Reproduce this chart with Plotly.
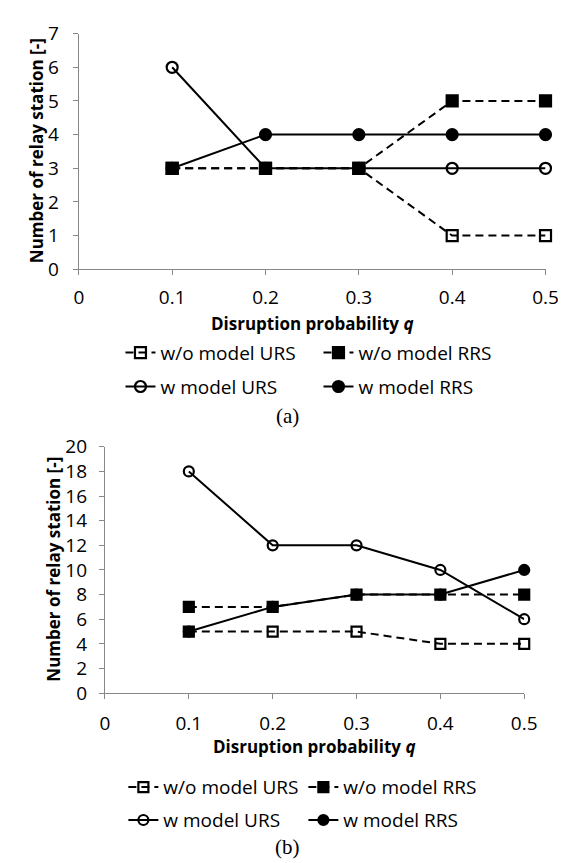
import plotly.graph_objects as go

# ---- data ----
q = [0.1, 0.2, 0.3, 0.4, 0.5]
series_names = ["w/o model URS", "w/o model RRS", "w model URS", "w model RRS"]

a_wo_urs = [3, 3, 3, 1, 1]
a_wo_rrs = [3, 3, 3, 5, 5]
a_w_urs = [6, 3, 3, 3, 3]
a_w_rrs = [3, 4, 4, 4, 4]

b_wo_urs = [5, 5, 5, 4, 4]
b_wo_rrs = [7, 7, 8, 8, 8]
b_w_urs = [18, 12, 12, 10, 6]
b_w_rrs = [5, 7, 8, 8, 10]

x_tickvals = [0, 0.1, 0.2, 0.3, 0.4, 0.5]
x_ticktext = ["0", "0.1", "0.2", "0.3", "0.4", "0.5"]
a_yticks = [0, 1, 2, 3, 4, 5, 6, 7]
b_yticks = [0, 2, 4, 6, 8, 10, 12, 14, 16, 18, 20]

x_title = "Disruption probability <i>q</i>"
y_title = "Number of relay station [-]"
captions = ["(a)", "(b)"]

# ---- layout helpers ----
W, H = 566, 863
FONT = "Open Sans"
AX = "#878787"
DASH = "8px,5px"


def px(xp):
    return xp / W


def py(yp):
    return 1 - yp / H


styles = [
    dict(dash=DASH, symbol="square-open"),
    dict(dash=DASH, symbol="square"),
    dict(dash="solid", symbol="circle-open"),
    dict(dash="solid", symbol="circle"),
]

fig = go.Figure()

panels = [
    dict(data=[a_wo_urs, a_wo_rrs, a_w_urs, a_w_rrs], xa="x", ya="y",
         legends=["legend", "legend2"], msize=11),
    dict(data=[b_wo_urs, b_wo_rrs, b_w_urs, b_w_rrs], xa="x2", ya="y2",
         legends=["legend3", "legend4"], msize=10),
]

for p in panels:
    for i, (vals, st) in enumerate(zip(p["data"], styles)):
        fig.add_trace(go.Scatter(
            x=q, y=vals, mode="lines+markers", name=series_names[i],
            xaxis=p["xa"], yaxis=p["ya"], cliponaxis=False,
            legend=p["legends"][i // 2],
            line=dict(color="black", width=2, dash=st["dash"]),
            marker=dict(symbol=st["symbol"], size=p["msize"], color="black",
                        line=dict(color="black", width=2.2)),
        ))

axis_common = dict(
    showline=True, linecolor=AX, linewidth=1.3, showgrid=False, zeroline=False,
    ticks="outside", tickcolor=AX, ticklen=5, tickwidth=1.3,
    tickfont=dict(family=FONT, size=19, color="black"),
)

fig.update_layout(
    width=W, height=H, margin=dict(l=0, r=0, t=0, b=0),
    paper_bgcolor="white", plot_bgcolor="white",
    font=dict(family=FONT, color="black"),
    xaxis=dict(domain=[px(68), px(550)], range=[0, 0.5], anchor="y",
               tickvals=x_tickvals, ticktext=x_ticktext, ticklabelstandoff=6,
               **axis_common),
    yaxis=dict(domain=[py(256), py(13)], range=[0, 7], anchor="x",
               tickvals=a_yticks, ticklabelstandoff=10, **axis_common),
    xaxis2=dict(domain=[px(95), px(528)], range=[0, 0.5], anchor="y2",
                tickvals=x_tickvals, ticktext=x_ticktext, ticklabelstandoff=8,
                **axis_common),
    yaxis2=dict(domain=[py(693), py(439)], range=[0, 20], anchor="x2",
                tickvals=b_yticks, ticklabelstandoff=8, **axis_common),
    showlegend=True,
)

leg_common = dict(orientation="h", xanchor="left", yanchor="middle",
                  font=dict(family=FONT, size=19, color="black"),
                  bgcolor="rgba(0,0,0,0)", itemsizing="trace",
                  entrywidthmode="pixels", tracegroupgap=0, itemwidth=30)
fig.update_layout(
    legend=dict(x=px(111), y=py(342), entrywidth=153, **leg_common),
    legend2=dict(x=px(111), y=py(377), entrywidth=153, **leg_common),
    legend3=dict(x=px(114), y=py(790), entrywidth=135, **leg_common),
    legend4=dict(x=px(114), y=py(824), entrywidth=135, **leg_common),
)

anns = [
    dict(x=px(309), y=py(312), text="<b>" + x_title + "</b>", font=dict(size=17)),
    dict(x=px(311), y=py(748), text="<b>" + x_title + "</b>", font=dict(size=17)),
    dict(x=px(25), y=py(134), text="<b>" + y_title + "</b>", textangle=-90, font=dict(size=17)),
    dict(x=px(42), y=py(565), text="<b>" + y_title + "</b>", textangle=-90, font=dict(size=17)),
    dict(x=px(283), y=py(407), text=captions[0],
         font=dict(family="Liberation Serif", size=21)),
    dict(x=px(283), y=py(852), text=captions[1],
         font=dict(family="Liberation Serif", size=21)),
]
for a in anns:
    f = dict(family=FONT, color="black")
    f.update(a.pop("font"))
    fig.add_annotation(xref="paper", yref="paper", xanchor="center", yanchor="middle",
                       showarrow=False, font=f, **a)

fig.write_html("out.html")
